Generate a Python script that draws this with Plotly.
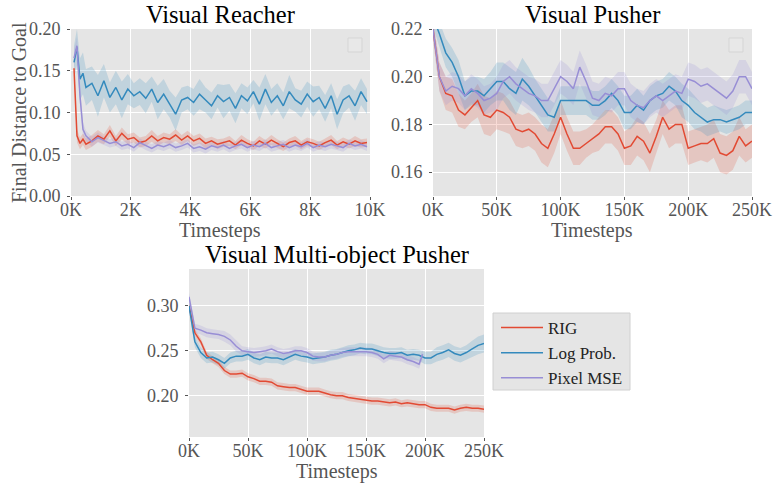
import plotly.graph_objects as go

# ---------------- data ----------------
reacher_x = [100, 200, 300, 400, 500, 700, 900, 1100, 1300, 1500, 1700, 1900, 2100, 2300, 2500,
             2700, 2900, 3100, 3300, 3500, 3700, 3900, 4100, 4300, 4500, 4700, 4900, 5100, 5300,
             5500, 5700, 5900, 6100, 6300, 6500, 6700, 6900, 7100, 7300, 7500, 7700, 7900, 8100,
             8300, 8500, 8700, 8900, 9100, 9300, 9500, 9700, 9900]
reacher_rig = [0.153, 0.072, 0.063, 0.068, 0.062, 0.066, 0.072, 0.068, 0.078, 0.066, 0.075, 0.068,
               0.070, 0.064, 0.066, 0.072, 0.066, 0.070, 0.068, 0.073, 0.067, 0.072, 0.066, 0.069,
               0.063, 0.066, 0.062, 0.064, 0.066, 0.061, 0.067, 0.063, 0.060, 0.066, 0.062, 0.067,
               0.063, 0.059, 0.064, 0.066, 0.061, 0.065, 0.063, 0.060, 0.064, 0.067, 0.061, 0.065,
               0.062, 0.066, 0.063, 0.064]
reacher_rig_sd = [0.008, 0.008, 0.007, 0.007, 0.007, 0.007, 0.007, 0.006, 0.007, 0.006, 0.007, 0.006,
                  0.006, 0.006, 0.006, 0.007, 0.006, 0.006, 0.006, 0.007, 0.006, 0.006, 0.006, 0.006,
                  0.006, 0.005, 0.006, 0.005, 0.006, 0.005, 0.006, 0.005, 0.005, 0.006, 0.005, 0.006,
                  0.005, 0.005, 0.005, 0.006, 0.005, 0.005, 0.005, 0.005, 0.005, 0.006, 0.005, 0.005,
                  0.005, 0.006, 0.005, 0.005]
reacher_logp = [0.160, 0.178, 0.140, 0.147, 0.130, 0.135, 0.120, 0.138, 0.118, 0.130, 0.115, 0.128,
                0.120, 0.125, 0.117, 0.128, 0.112, 0.122, 0.110, 0.098, 0.115, 0.118, 0.112, 0.122,
                0.115, 0.108, 0.120, 0.113, 0.118, 0.105, 0.120, 0.114, 0.125, 0.110, 0.128, 0.112,
                0.120, 0.108, 0.125, 0.115, 0.110, 0.122, 0.113, 0.118, 0.105, 0.120, 0.098, 0.115,
                0.120, 0.108, 0.125, 0.113]
reacher_logp_sd = [0.020, 0.022, 0.025, 0.025, 0.022, 0.020, 0.025, 0.020, 0.018, 0.020, 0.022, 0.018,
                   0.015, 0.016, 0.018, 0.015, 0.020, 0.018, 0.016, 0.020, 0.015, 0.014, 0.016, 0.018,
                   0.015, 0.016, 0.014, 0.020, 0.016, 0.018, 0.015, 0.016, 0.014, 0.020, 0.018, 0.016,
                   0.015, 0.016, 0.020, 0.014, 0.016, 0.015, 0.018, 0.014, 0.016, 0.015, 0.018, 0.016,
                   0.014, 0.018, 0.016, 0.015]
reacher_mse = [0.165, 0.180, 0.120, 0.080, 0.072, 0.065, 0.070, 0.066, 0.063, 0.065, 0.060, 0.062,
               0.058, 0.064, 0.060, 0.057, 0.061, 0.059, 0.062, 0.058, 0.060, 0.063, 0.057, 0.059,
               0.056, 0.060, 0.058, 0.061, 0.057, 0.060, 0.062, 0.058, 0.061, 0.059, 0.063, 0.058,
               0.060, 0.062, 0.058, 0.061, 0.059, 0.063, 0.058, 0.061, 0.059, 0.062, 0.060, 0.058,
               0.063, 0.060, 0.062, 0.059]
reacher_mse_sd = [0.010, 0.010, 0.010, 0.008, 0.006, 0.006, 0.006, 0.005, 0.005, 0.005, 0.005, 0.005,
                  0.005, 0.005, 0.005, 0.005, 0.005, 0.005, 0.005, 0.005, 0.005, 0.005, 0.005, 0.005,
                  0.005, 0.005, 0.005, 0.005, 0.005, 0.005, 0.005, 0.005, 0.005, 0.005, 0.005, 0.005,
                  0.005, 0.005, 0.005, 0.005, 0.005, 0.005, 0.005, 0.005, 0.005, 0.005, 0.005, 0.005,
                  0.005, 0.005, 0.005, 0.005]

pusher_x = [0, 5000, 10000, 15000, 20000, 25000, 30000, 35000, 40000, 45000, 50000, 55000, 60000,
            65000, 70000, 75000, 80000, 85000, 90000, 95000, 100000, 105000, 110000, 115000, 120000,
            125000, 130000, 135000, 140000, 145000, 150000, 155000, 160000, 165000, 170000, 175000,
            180000, 185000, 190000, 195000, 200000, 205000, 210000, 215000, 220000, 225000, 230000,
            235000, 240000, 245000, 250000]
pusher_rig = [0.220, 0.200, 0.193, 0.192, 0.186, 0.184, 0.187, 0.190, 0.184, 0.183, 0.186, 0.185,
              0.183, 0.178, 0.177, 0.178, 0.176, 0.172, 0.170, 0.176, 0.183, 0.176, 0.170, 0.170,
              0.172, 0.174, 0.176, 0.179, 0.179, 0.176, 0.170, 0.171, 0.175, 0.173, 0.168, 0.175,
              0.183, 0.178, 0.180, 0.180, 0.170, 0.171, 0.172, 0.172, 0.174, 0.168, 0.167, 0.169,
              0.175, 0.171, 0.173]
pusher_rig_sd = [0.004, 0.006, 0.007, 0.007, 0.007, 0.006, 0.006, 0.007, 0.008, 0.008, 0.008, 0.008,
                 0.007, 0.007, 0.007, 0.007, 0.007, 0.008, 0.008, 0.008, 0.007, 0.007, 0.007, 0.007,
                 0.006, 0.006, 0.007, 0.007, 0.007, 0.007, 0.007, 0.008, 0.008, 0.008, 0.008, 0.007,
                 0.007, 0.008, 0.008, 0.008, 0.007, 0.007, 0.007, 0.008, 0.008, 0.008, 0.008, 0.008,
                 0.008, 0.007, 0.007]
pusher_logp = [0.225, 0.218, 0.210, 0.206, 0.200, 0.192, 0.194, 0.194, 0.192, 0.195, 0.198, 0.198,
               0.195, 0.193, 0.199, 0.196, 0.192, 0.188, 0.184, 0.183, 0.190, 0.190, 0.190, 0.190,
               0.190, 0.188, 0.188, 0.190, 0.193, 0.190, 0.185, 0.185, 0.188, 0.186, 0.190, 0.192,
               0.193, 0.196, 0.194, 0.190, 0.188, 0.185, 0.183, 0.181, 0.182, 0.182, 0.181, 0.182,
               0.183, 0.185, 0.185]
pusher_logp_sd = [0.004, 0.005, 0.006, 0.006, 0.007, 0.006, 0.006, 0.006, 0.007, 0.007, 0.008, 0.008,
                  0.009, 0.009, 0.009, 0.008, 0.007, 0.007, 0.007, 0.006, 0.006, 0.006, 0.006, 0.006,
                  0.006, 0.006, 0.006, 0.006, 0.006, 0.006, 0.007, 0.007, 0.007, 0.006, 0.006, 0.006,
                  0.006, 0.006, 0.006, 0.007, 0.007, 0.007, 0.006, 0.006, 0.006, 0.005, 0.005, 0.005,
                  0.005, 0.005, 0.005]
pusher_mse = [0.220, 0.200, 0.194, 0.196, 0.195, 0.192, 0.195, 0.193, 0.190, 0.191, 0.193, 0.198,
              0.200, 0.197, 0.195, 0.193, 0.192, 0.190, 0.190, 0.195, 0.200, 0.198, 0.195, 0.204,
              0.198, 0.191, 0.190, 0.193, 0.192, 0.195, 0.195, 0.190, 0.188, 0.187, 0.190, 0.192,
              0.190, 0.192, 0.194, 0.193, 0.199, 0.198, 0.196, 0.197, 0.195, 0.193, 0.191, 0.194,
              0.200, 0.200, 0.195]
pusher_mse_sd = [0.004, 0.006, 0.006, 0.006, 0.006, 0.006, 0.006, 0.006, 0.006, 0.006, 0.007, 0.007,
                 0.007, 0.007, 0.007, 0.007, 0.007, 0.007, 0.007, 0.007, 0.007, 0.007, 0.007, 0.007,
                 0.007, 0.007, 0.007, 0.007, 0.007, 0.007, 0.007, 0.007, 0.007, 0.007, 0.007, 0.007,
                 0.007, 0.007, 0.007, 0.007, 0.007, 0.007, 0.007, 0.007, 0.007, 0.007, 0.007, 0.007,
                 0.007, 0.007, 0.007]

multi_x = pusher_x
multi_rig = [0.300, 0.270, 0.260, 0.245, 0.240, 0.236, 0.228, 0.224, 0.224, 0.225, 0.221, 0.219,
             0.216, 0.216, 0.215, 0.211, 0.210, 0.209, 0.209, 0.207, 0.205, 0.205, 0.205, 0.203,
             0.201, 0.200, 0.200, 0.198, 0.197, 0.196, 0.195, 0.194, 0.194, 0.193, 0.192, 0.193,
             0.191, 0.192, 0.191, 0.190, 0.190, 0.187, 0.186, 0.186, 0.186, 0.184, 0.186, 0.187,
             0.186, 0.186, 0.185]
multi_rig_sd = [0.004, 0.004, 0.004, 0.004, 0.004, 0.004, 0.004, 0.004, 0.004, 0.004, 0.004, 0.004,
                0.004, 0.004, 0.004, 0.004, 0.004, 0.004, 0.004, 0.004, 0.004, 0.004, 0.004, 0.004,
                0.004, 0.004, 0.004, 0.004, 0.004, 0.004, 0.004, 0.004, 0.004, 0.004, 0.004, 0.004,
                0.004, 0.004, 0.004, 0.004, 0.004, 0.004, 0.004, 0.004, 0.004, 0.004, 0.004, 0.004,
                0.004, 0.004, 0.004]
multi_logp = [0.300, 0.260, 0.248, 0.242, 0.243, 0.240, 0.236, 0.242, 0.244, 0.244, 0.246, 0.242,
              0.240, 0.243, 0.242, 0.242, 0.240, 0.243, 0.246, 0.244, 0.243, 0.241, 0.242, 0.243,
              0.245, 0.246, 0.248, 0.250, 0.251, 0.253, 0.252, 0.252, 0.250, 0.248, 0.247, 0.247,
              0.248, 0.245, 0.246, 0.245, 0.242, 0.242, 0.246, 0.248, 0.251, 0.247, 0.245, 0.248,
              0.252, 0.256, 0.258]
multi_logp_sd = [0.005, 0.006, 0.006, 0.006, 0.006, 0.006, 0.006, 0.006, 0.006, 0.006, 0.006, 0.006,
                 0.006, 0.006, 0.006, 0.006, 0.006, 0.006, 0.006, 0.006, 0.006, 0.006, 0.006, 0.006,
                 0.006, 0.006, 0.006, 0.006, 0.006, 0.006, 0.006, 0.006, 0.006, 0.006, 0.006, 0.006,
                 0.006, 0.006, 0.006, 0.006, 0.007, 0.007, 0.008, 0.008, 0.008, 0.008, 0.008, 0.008,
                 0.009, 0.010, 0.010]
multi_mse_x = [0, 5000, 10000, 15000, 20000, 25000, 30000, 35000, 40000, 45000, 50000, 55000, 60000,
               65000, 70000, 75000, 80000, 85000, 90000, 95000, 100000, 105000, 110000, 115000, 120000,
               125000, 130000, 135000, 140000, 145000, 150000, 155000, 160000, 165000, 170000, 175000,
               180000, 185000, 190000, 195000, 198000]
multi_mse = [0.310, 0.275, 0.273, 0.270, 0.269, 0.268, 0.266, 0.262, 0.255, 0.250, 0.249, 0.248,
             0.249, 0.250, 0.252, 0.249, 0.247, 0.248, 0.250, 0.250, 0.248, 0.244, 0.243, 0.243,
             0.245, 0.246, 0.248, 0.249, 0.249, 0.249, 0.249, 0.248, 0.246, 0.241, 0.245, 0.244,
             0.243, 0.240, 0.238, 0.235, 0.246]
multi_mse_sd = [0.005, 0.005, 0.005, 0.005, 0.005, 0.005, 0.006, 0.006, 0.006, 0.005, 0.005, 0.005,
                0.005, 0.005, 0.005, 0.005, 0.005, 0.005, 0.005, 0.005, 0.005, 0.005, 0.005, 0.005,
                0.005, 0.005, 0.005, 0.005, 0.005, 0.005, 0.005, 0.005, 0.005, 0.005, 0.005, 0.005,
                0.005, 0.005, 0.005, 0.005, 0.005]

series_names = ["RIG", "Log Prob.", "Pixel MSE"]
colors = ["#E24A33", "#348ABD", "#988ED5"]
fills = ["rgba(226,74,51,0.2)", "rgba(52,138,189,0.2)", "rgba(152,142,213,0.2)"]

reacher_ticks = [0, 2000, 4000, 6000, 8000, 10000]
reacher_ticktext = ["0K", "2K", "4K", "6K", "8K", "10K"]
pusher_ticks = [0, 50000, 100000, 150000, 200000, 250000]
pusher_ticktext = ["0K", "50K", "100K", "150K", "200K", "250K"]

FONT = "Liberation Serif"
W, H = 773, 484

fig = go.Figure()


def add_panel(xs_list, ys_list, sds_list, ax, show_legend):
    xa = "x" if ax == 1 else f"x{ax}"
    ya = "y" if ax == 1 else f"y{ax}"
    for i, (xs, ys, sd) in enumerate(zip(xs_list, ys_list, sds_list)):
        upper = [y + s for y, s in zip(ys, sd)]
        lower = [y - s for y, s in zip(ys, sd)]
        fig.add_trace(go.Scatter(x=list(xs) + list(xs)[::-1], y=upper + lower[::-1],
                                 fill="toself", fillcolor=fills[i], line=dict(width=0),
                                 mode="lines", hoverinfo="skip", showlegend=False,
                                 xaxis=xa, yaxis=ya))
    for i, (xs, ys) in enumerate(zip(xs_list, ys_list)):
        fig.add_trace(go.Scatter(x=xs, y=ys, mode="lines", name=series_names[i],
                                 line=dict(color=colors[i], width=1.5),
                                 showlegend=show_legend, xaxis=xa, yaxis=ya))


add_panel([reacher_x] * 3, [reacher_rig, reacher_logp, reacher_mse],
          [reacher_rig_sd, reacher_logp_sd, reacher_mse_sd], 1, False)
add_panel([pusher_x] * 3, [pusher_rig, pusher_logp, pusher_mse],
          [pusher_rig_sd, pusher_logp_sd, pusher_mse_sd], 2, False)
add_panel([multi_x, multi_x, multi_mse_x], [multi_rig, multi_logp, multi_mse],
          [multi_rig_sd, multi_logp_sd, multi_mse_sd], 3, True)


def px_x(p):
    return p / W


def px_y(p):
    return 1 - p / H


common_axis = dict(showgrid=True, gridcolor="white", gridwidth=1, zeroline=False,
                   showline=False, ticks="outside", ticklen=3, tickcolor="#555555",
                   automargin=False,
                   tickfont=dict(family=FONT, size=18, color="#555555"))
x_axis = dict(common_axis, ticklabelstandoff=-6)
y_axis = dict(common_axis, ticklabelstandoff=3)

fig.update_layout(
    width=W, height=H, margin=dict(l=0, r=0, t=0, b=0, pad=0), autosize=False,
    paper_bgcolor="white", plot_bgcolor="#E5E5E5",
    font=dict(family=FONT),
    xaxis=dict(domain=[px_x(71), px_x(370)], range=[0, 10000], tickvals=reacher_ticks,
               ticktext=reacher_ticktext, anchor="y", **x_axis),
    yaxis=dict(domain=[px_y(196), px_y(29)], range=[0, 0.2], tickvals=[0, 0.05, 0.1, 0.15, 0.2],
               ticktext=["0.00", "0.05", "0.10", "0.15", "0.20"], anchor="x", **y_axis),
    xaxis2=dict(domain=[px_x(433), px_x(752)], range=[0, 250000], tickvals=pusher_ticks,
                ticktext=pusher_ticktext, anchor="y2", **x_axis),
    yaxis2=dict(domain=[px_y(196), px_y(29)], range=[0.15, 0.22], tickvals=[0.16, 0.18, 0.2, 0.22],
                ticktext=["0.16", "0.18", "0.20", "0.22"], anchor="x2", **y_axis),
    xaxis3=dict(domain=[px_x(189), px_x(484)], range=[0, 250000], tickvals=pusher_ticks,
                ticktext=pusher_ticktext, anchor="y3", **x_axis),
    yaxis3=dict(domain=[px_y(437), px_y(269)], range=[0.154, 0.341], tickvals=[0.2, 0.25, 0.3],
                ticktext=["0.20", "0.25", "0.30"], anchor="x3", **y_axis),
    legend=dict(x=px_x(496), y=px_y(310), xanchor="left", yanchor="top",
                bgcolor="rgba(0,0,0,0)", borderwidth=0, itemwidth=42,
                font=dict(family=FONT, size=17, color="#222222")),
    showlegend=True,
)

annotations = [
    dict(text="Visual Reacher", x=px_x(220), y=px_y(15), font=dict(size=24.5, color="black")),
    dict(text="Visual Pusher", x=px_x(592), y=px_y(15), font=dict(size=24.5, color="black")),
    dict(text="Visual Multi-object Pusher", x=px_x(337), y=px_y(255), font=dict(size=24.5, color="black")),
    dict(text="Timesteps", x=px_x(220), y=px_y(230), font=dict(size=20, color="#555555")),
    dict(text="Timesteps", x=px_x(592), y=px_y(230), font=dict(size=20, color="#555555")),
    dict(text="Timesteps", x=px_x(337), y=px_y(471), font=dict(size=20, color="#555555")),
    dict(text="Final Distance to Goal", x=px_x(19), y=px_y(113), textangle=-90,
         font=dict(size=20, color="#555555")),
]
for a in annotations:
    a.update(xref="paper", yref="paper", showarrow=False, xanchor="center", yanchor="middle")
    a["font"]["family"] = FONT
fig.update_layout(annotations=annotations)

# legend frame (panel 3) and empty legend boxes in the upper panels
fig.add_shape(type="rect", xref="paper", yref="paper", layer="below",
              x0=px_x(493), x1=px_x(630), y0=px_y(390), y1=px_y(313),
              fillcolor="#E5E5E5", line=dict(color="#D0D0D0", width=1))
for x0 in (348, 729):
    fig.add_shape(type="rect", xref="paper", yref="paper",
                  x0=px_x(x0), x1=px_x(x0 + 14), y0=px_y(52), y1=px_y(38),
                  fillcolor="#E8E8E8", line=dict(color="#D5D5D5", width=1))

fig.write_html("out.html", config={"displayModeBar": False},
               post_script="document.body.style.margin='0px';document.body.style.overflow='hidden';")
